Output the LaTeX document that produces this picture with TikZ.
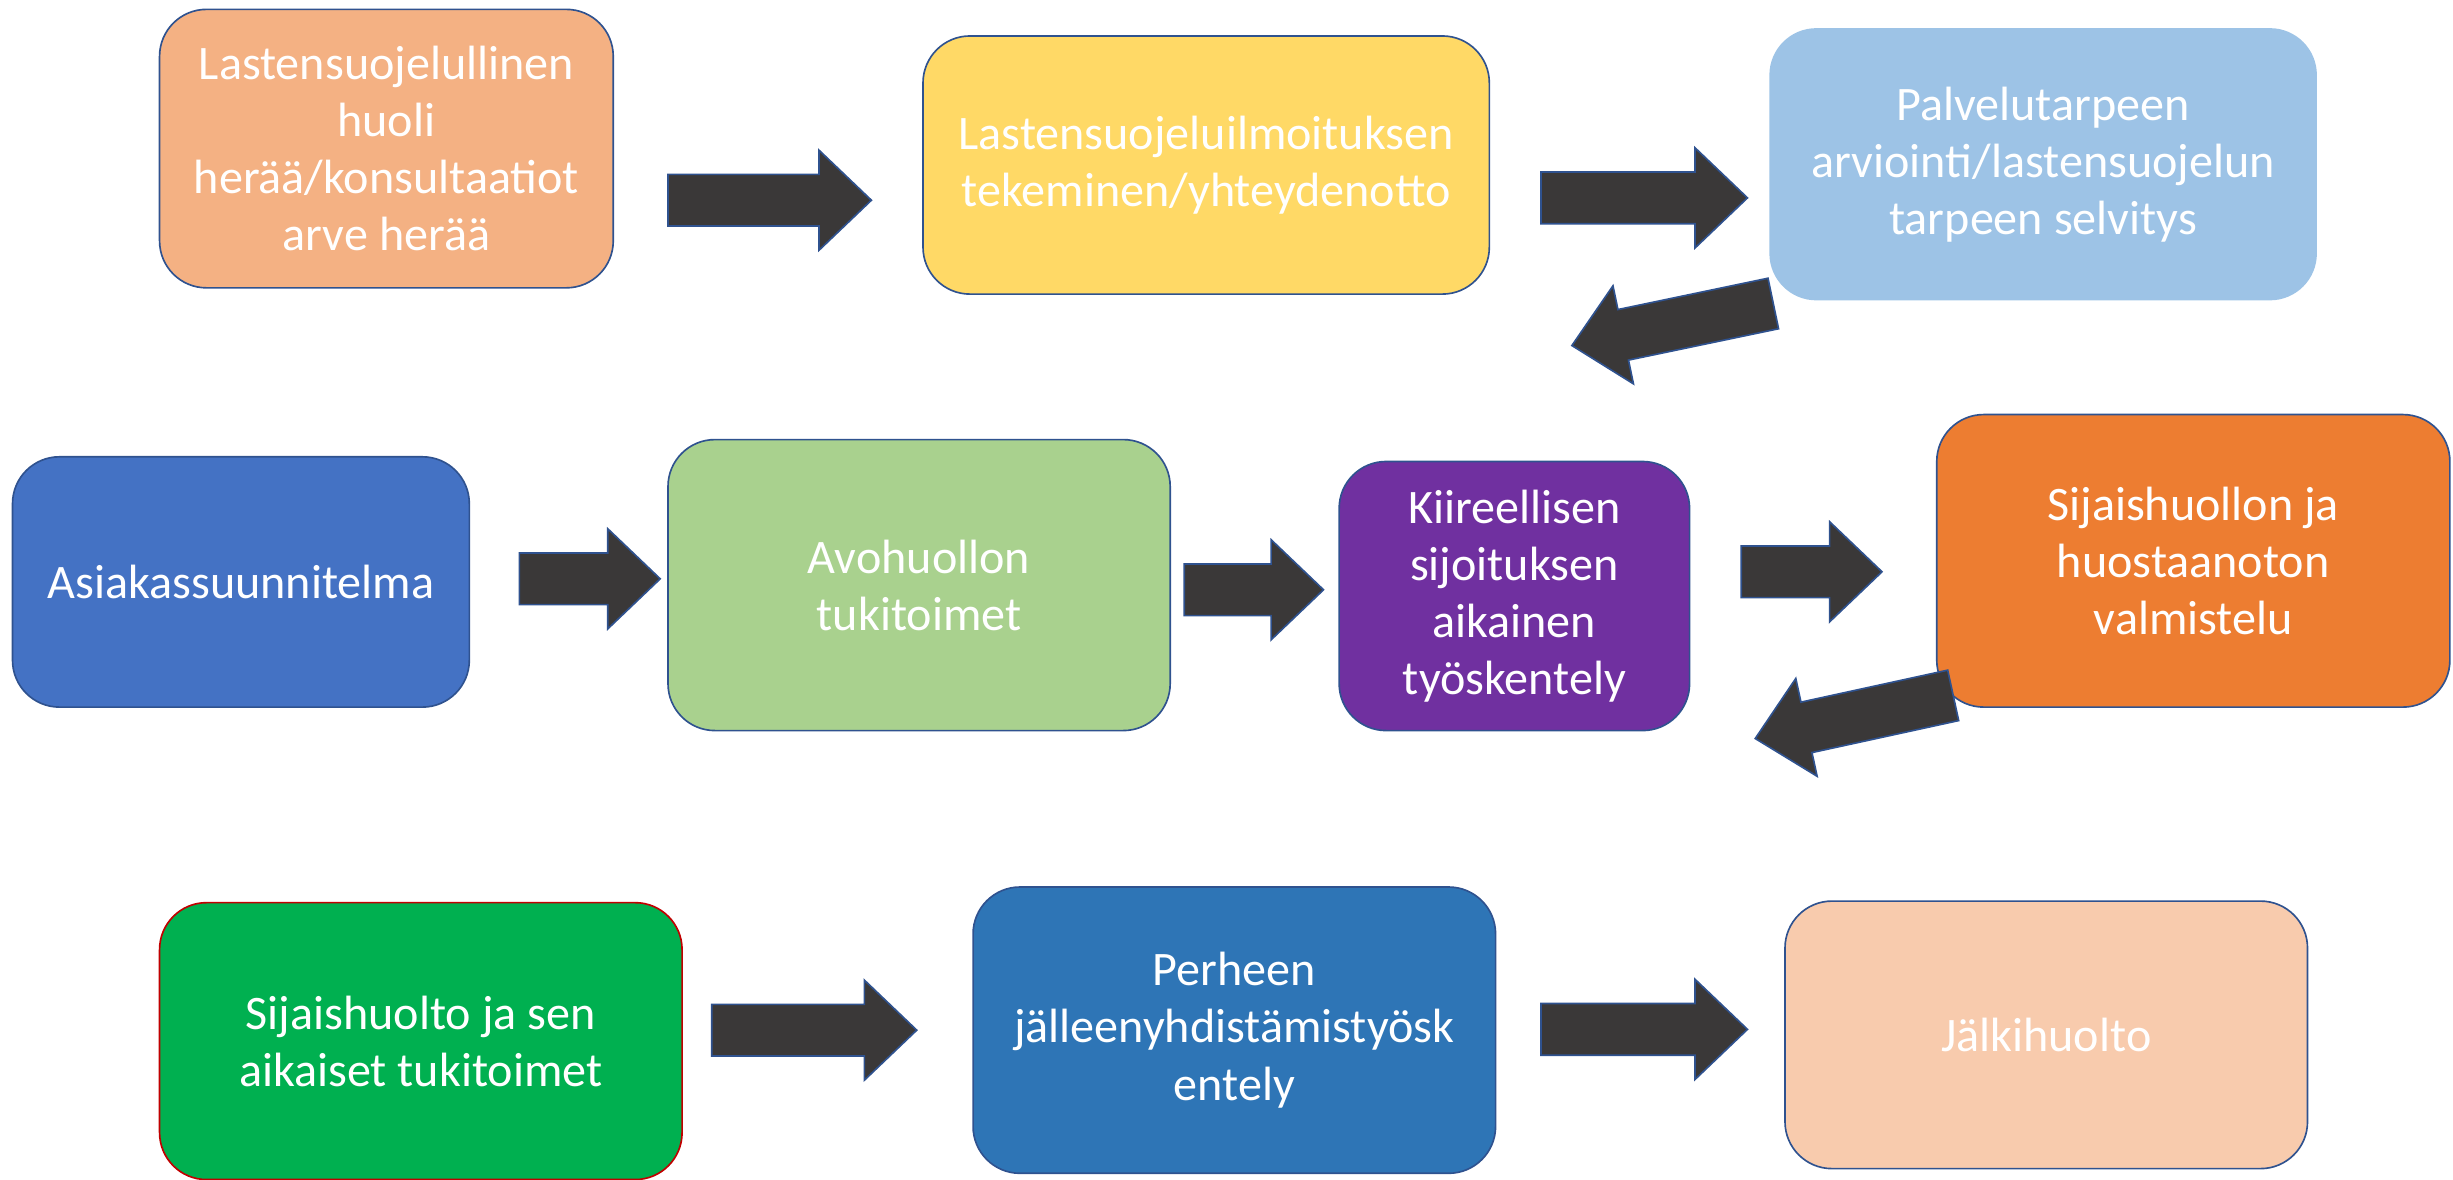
\documentclass[tikz,border=0pt]{standalone}
\usepackage{fontspec}
\setmainfont{Carlito}
\definecolor{edgeblue}{HTML}{2F528F}
\definecolor{arrowgray}{HTML}{3A3838}
\definecolor{cpeach}{HTML}{F4B183}
\definecolor{cyellow}{HTML}{FFD966}
\definecolor{clightblue}{HTML}{9DC3E6}
\definecolor{cblue}{HTML}{4472C4}
\definecolor{clightgreen}{HTML}{A9D18E}
\definecolor{cpurple}{HTML}{7030A0}
\definecolor{corange}{HTML}{ED7D31}
\definecolor{cgreen}{HTML}{00B050}
\definecolor{cred}{HTML}{C00000}
\definecolor{cdarkblue}{HTML}{2E75B6}
\definecolor{cpale}{HTML}{F8CBAD}
\tikzset{
  box/.style={rounded corners=1.2cm,draw=edgeblue,line width=1.2pt,text=white,
    align=center,inner sep=0pt,font=\fontsize{35}{41.5}\selectfont},
  arrowstyle/.style={fill=arrowgray,draw=edgeblue,line width=1.2pt,line join=miter},
  pics/blockarrow/.style={code={
    \draw[arrowstyle] (0,-0.66) -- (#1-1.34,-0.66) -- (#1-1.34,-1.28) -- (#1,0)
      -- (#1-1.34,1.28) -- (#1-1.34,0.66) -- (0,0.66) -- cycle;
  }}
}
\begin{document}
\begin{tikzpicture}
	\useasboundingbox (0,0) rectangle (62.72,30.16);
	% first row
	\node[box,fill=cpeach,minimum width=11.6cm,minimum height=7.12cm] (huoli) at (9.88,26.36)
		{Lastensuojelullinen\\huoli\\herää/konsultaatiot\\arve herää};
	\node[box,fill=cyellow,minimum width=14.48cm,minimum height=6.6cm] (ilmoitus) at (30.84,25.94)
		{Lastensuojeluilmoituksen\\tekeminen/yhteydenotto};
	\node[box,fill=clightblue,draw=none,minimum width=14cm,minimum height=6.96cm] (arvio) at (52.24,25.96)
		{Palvelutarpeen\\arviointi/lastensuojelun\\tarpeen selvitys};
	% second row
	\node[box,fill=cblue,minimum width=11.68cm,minimum height=6.4cm] (suunn) at (6.16,15.28)
		{Asiakassuunnitelma};
	\node[box,fill=clightgreen,minimum width=12.84cm,minimum height=7.44cm] (avo) at (23.5,15.2)
		{Avohuollon\\tukitoimet};
	\node[box,fill=cpurple,minimum width=8.96cm,minimum height=6.88cm] (kiire) at (38.72,14.92)
		{Kiireellisen\\sijoituksen\\aikainen\\työskentely};
	\node[box,fill=corange,minimum width=13.12cm,minimum height=7.48cm] (valm) at (56.08,15.82)
		{Sijaishuollon ja\\huostaanoton\\valmistelu};
	% third row
	\node[box,fill=cgreen,draw=cred,minimum width=13.36cm,minimum height=7.08cm] (sijais) at (10.76,3.54)
		{Sijaishuolto ja sen\\aikaiset tukitoimet};
	\node[box,fill=cdarkblue,minimum width=13.36cm,minimum height=7.32cm] (perhe) at (31.56,3.82)
		{Perheen\\jälleenyhdistämistyösk\\entely};
	\node[box,fill=cpale,minimum width=13.36cm,minimum height=6.84cm] (jalki) at (52.32,3.7)
		{Jälkihuolto};
	%===========================================
	\pic at (17.08,25.04) {blockarrow=5.2};
	\pic at (39.4,25.1) {blockarrow=5.28};
	\pic[rotate=191.8] at (45.34,22.4) {blockarrow=5.26};
	\pic at (13.28,15.36) {blockarrow=3.6};
	\pic at (30.28,15.08) {blockarrow=3.56};
	\pic at (44.52,15.54) {blockarrow=3.6};
	\pic[rotate=192.3] at (49.94,12.38) {blockarrow=5.18};
	\pic at (18.2,3.82) {blockarrow=5.24};
	\pic at (39.4,3.84) {blockarrow=5.28};
\end{tikzpicture}
\end{document}
